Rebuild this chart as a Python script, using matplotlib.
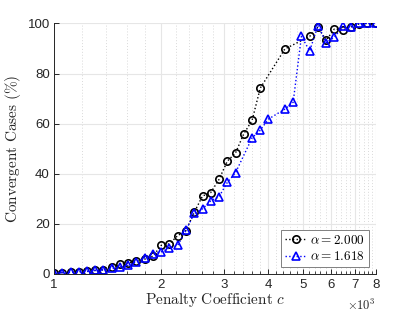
import numpy as np
import matplotlib
matplotlib.use('Agg')
import matplotlib.pyplot as plt
from matplotlib.ticker import FixedLocator, FuncFormatter, NullFormatter

plt.rcParams['mathtext.fontset'] = 'cm'
plt.rcParams['font.family'] = ['Liberation Sans', 'DejaVu Sans']

# Penalty coefficient c (raw values) and convergent cases (%)
c_a2 = [1000, 1055, 1113, 1174, 1238, 1306, 1377, 1453, 1532, 1616,
        1705, 1798, 1897, 2000, 2110, 2226, 2348, 2477, 2613, 2756,
        2907, 3067, 3235, 3412, 3600, 3797, 4451, 5224, 5511, 5813,
        6132, 6468, 6823, 7197, 7592, 8000]
conv_a2 = [0.3, 0.5, 0.7, 0.9, 1.0, 1.4, 1.6, 2.9, 3.8, 4.4,
           5.2, 5.9, 7.1, 11.4, 12.0, 15.3, 17.3, 24.6, 31.1, 32.5,
           37.7, 45.0, 48.3, 55.9, 61.3, 74.2, 89.8, 94.8, 98.5, 93.3,
           97.8, 97.4, 98.6, 99.8, 100, 100]

c_a1618 = [1000, 1055, 1113, 1174, 1238, 1306, 1377, 1453, 1532, 1616,
           1705, 1798, 1897, 2000, 2110, 2226, 2348, 2477, 2613, 2756,
           2907, 3067, 3235, 3600, 3797, 4000, 4451, 4695, 4953, 5224,
           5511, 5813, 6132, 6468, 6823, 7197, 7592, 8000]
conv_a1618 = [0.3, 0.5, 0.6, 0.9, 1.0, 1.4, 1.7, 2.2, 2.8, 3.4,
              4.9, 6.5, 8.1, 8.8, 10.4, 11.4, 17.4, 24.2, 26.0, 29.2,
              30.8, 36.5, 40.4, 54.3, 57.4, 61.8, 65.8, 68.5, 94.8, 89.0,
              99.1, 92.3, 94.5, 98.8, 98.5, 100, 100, 100]

x_ticks = [1, 2, 3, 4, 5, 6, 7, 8]
y_ticks = [0, 20, 40, 60, 80, 100]

gray = '#262626'

fig = plt.figure(figsize=(4.15, 3.12), dpi=100)
ax = fig.add_axes([0.130, 0.122, 0.775, 0.803])

ax.plot(np.array(c_a2) / 1000, conv_a2, ls=':', color='k', lw=1.0,
        marker='o', ms=5.3, mfc='none', mec='k', mew=1.2,
        label=r'$\alpha = 2.000$')
ax.plot(np.array(c_a1618) / 1000, conv_a1618, ls=':', color='b', lw=1.0,
        marker='^', ms=5.8, mfc='none', mec='b', mew=1.2,
        label=r'$\alpha = 1.618$')

ax.set_xscale('log')
ax.set_xlim(1, 8)
ax.set_ylim(0, 100)
ax.xaxis.set_major_locator(FixedLocator(x_ticks))
ax.xaxis.set_major_formatter(FuncFormatter(lambda v, p: f'{v:g}'))
minor = [m for m in np.arange(1.2, 8.0, 0.2) if abs(m - round(m)) > 1e-6]
ax.xaxis.set_minor_locator(FixedLocator(minor))
ax.xaxis.set_minor_formatter(NullFormatter())
ax.set_yticks(y_ticks)

ax.grid(True, which='major', color='#e6e6e6', lw=0.8, ls='-')
ax.grid(True, which='minor', axis='x', color='#d9d9d9', lw=0.7, ls=(0, (1, 2)))
ax.set_axisbelow(True)

for s in ['top', 'right']:
    ax.spines[s].set_visible(False)
for s in ['left', 'bottom']:
    ax.spines[s].set_color(gray)
    ax.spines[s].set_linewidth(0.7)

ax.tick_params(which='both', direction='in', colors=gray, labelsize=9.5)
ax.tick_params(which='major', length=3.5, width=0.7)
ax.tick_params(which='minor', length=2, width=0.6)
ax.tick_params(axis='x', pad=4)
ax.tick_params(axis='y', pad=3)

ax.set_xlabel(r'$\mathrm{Penalty\ Coefficient}\ c$', fontsize=11, labelpad=0, color=gray)
ax.set_ylabel(r'$\mathrm{Convergent\ Cases\ (\%)}$', fontsize=11, labelpad=3, color=gray)

ax.text(1.0, -0.095, r'$\times 10^3$', transform=ax.transAxes, ha='right', va='top',
        fontsize=9, color=gray, family='Liberation Sans')

leg = ax.legend(loc='lower right', fontsize=9.5, fancybox=False, framealpha=1,
                edgecolor='#808080', handlelength=1.6, handletextpad=0.3,
                borderpad=0.3, labelspacing=0.25, borderaxespad=0.5)
leg.get_frame().set_linewidth(0.7)

fig.savefig('out.png', dpi=100)
